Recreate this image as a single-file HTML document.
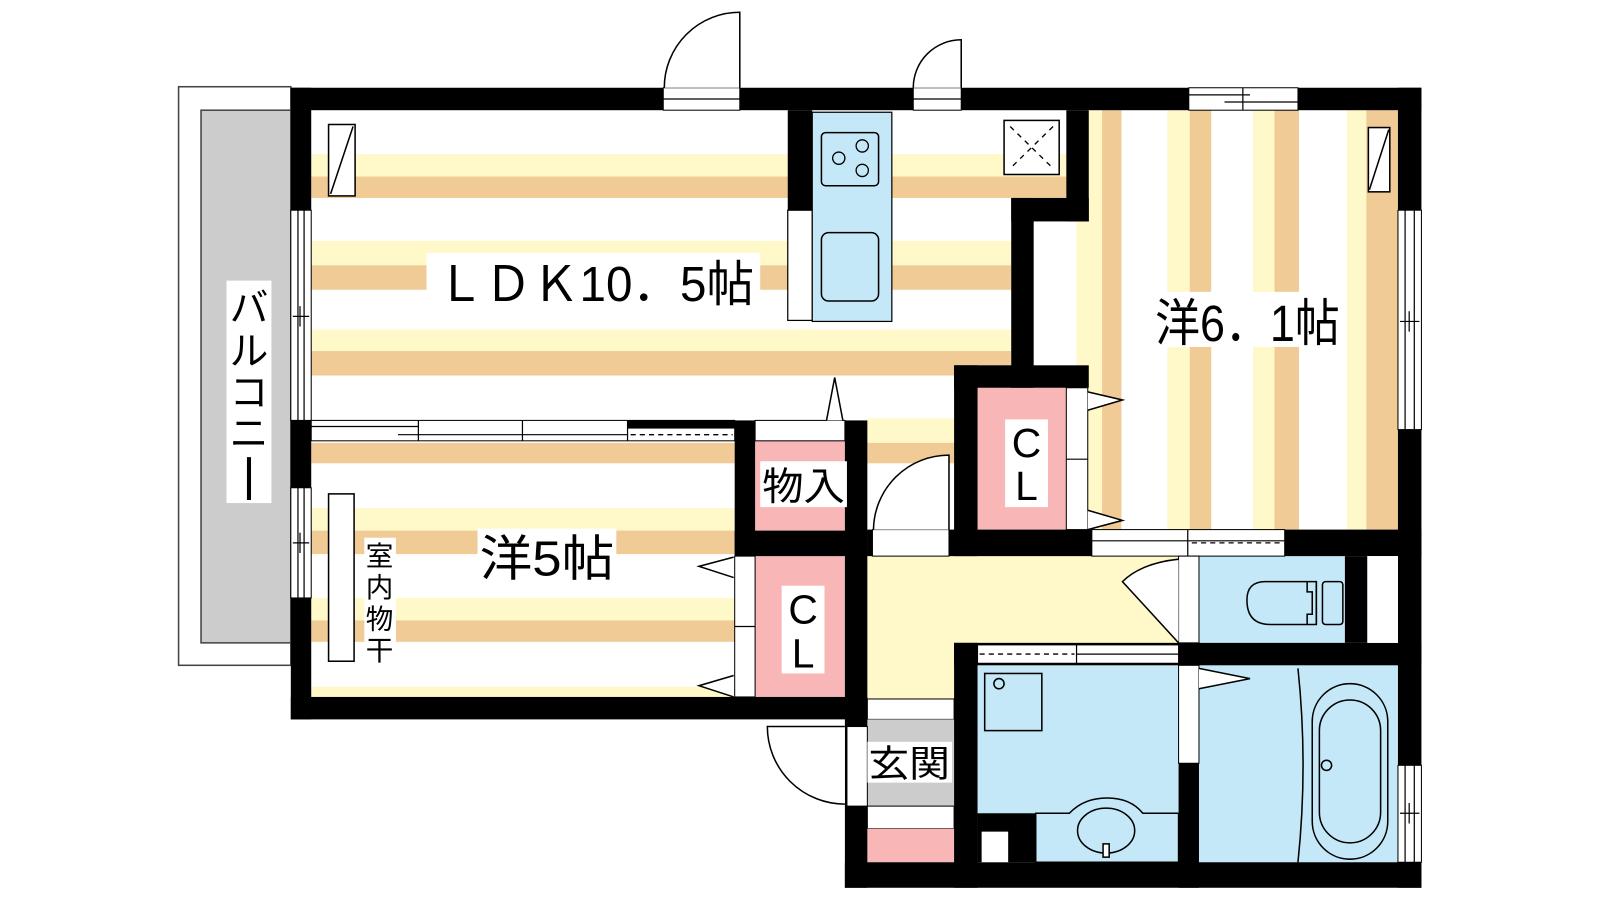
<!DOCTYPE html>
<html><head><meta charset="utf-8"><style>
html,body{margin:0;padding:0;background:#fff;}
svg{display:block;}
text{font-family:"Liberation Sans","Noto Sans CJK JP",sans-serif;fill:#000;}
</style></head><body>
<svg width="1600" height="900" viewBox="0 0 1568 882" preserveAspectRatio="none" xmlns="http://www.w3.org/2000/svg">
<rect width="1568" height="882" fill="#fff"/>
<!-- balcony -->
<rect x="175" y="85" width="110" height="567" fill="#fff" stroke="#444" stroke-width="1.5"/>
<rect x="197" y="108" width="88" height="522" fill="#ccc" stroke="#444" stroke-width="1.5"/>
<rect x="222" y="275" width="44" height="218" fill="#fff"/>
<text x="244" y="315" font-size="38" text-anchor="middle">バ</text>
<text x="244" y="357" font-size="38" text-anchor="middle">ル</text>
<text x="244" y="398" font-size="38" text-anchor="middle">コ</text>
<text x="244" y="438" font-size="38" text-anchor="middle">ニ</text>
<rect x="242" y="448" width="4" height="42" fill="#000"/>

<!-- LDK floor stripes -->
<g fill="#FFF8C8">
<rect x="305" y="151" width="740" height="22"/>
<rect x="305" y="236" width="686" height="24"/>
<rect x="305" y="323" width="686" height="21"/>
<rect x="850" y="410" width="85" height="24"/>
<rect x="305" y="498" width="415" height="22"/>
<rect x="305" y="586" width="415" height="22"/>
<rect x="305" y="673" width="415" height="10"/>
</g>
<g fill="#F0CB95">
<rect x="305" y="173" width="740" height="21"/>
<rect x="305" y="260" width="686" height="24"/>
<rect x="305" y="344" width="686" height="24"/>
<rect x="850" y="434" width="85" height="20"/>
<rect x="305" y="434" width="415" height="20"/>
<rect x="305" y="520" width="415" height="23"/>
<rect x="305" y="608" width="415" height="21"/>
</g>
<!-- 6.1 room stripes -->
<g fill="#FFF8C8">
<rect x="1055" y="217" width="25" height="302"/>
<rect x="1067" y="108" width="13" height="109"/>
<rect x="1144" y="108" width="22" height="411"/>
<rect x="1228" y="108" width="21" height="411"/>
<rect x="1320" y="108" width="19" height="411"/>
</g>
<g fill="#F0CB95">
<rect x="1080" y="108" width="19" height="411"/>
<rect x="1166" y="108" width="21" height="411"/>
<rect x="1249" y="108" width="24" height="411"/>
<rect x="1339" y="108" width="31" height="411"/>
</g>

<!-- corridor -->
<rect x="850" y="545" width="305" height="85" fill="#FFF8C8"/>
<rect x="850" y="630" width="85" height="55" fill="#FFF8C8"/>
<!-- pink closets -->
<rect x="740" y="432" width="88" height="88" fill="#F8B6B6"/>
<rect x="740" y="545" width="88" height="138" fill="#F8B6B6"/>
<rect x="958" y="380" width="87" height="139" fill="#F8B6B6"/>
<!-- blue wet rooms -->
<rect x="1175" y="545" width="143" height="85" fill="#C4E8F8"/>
<rect x="958" y="652" width="197" height="193" fill="#C4E8F8"/>
<rect x="1175" y="652" width="195" height="193" fill="#C4E8F8"/>
<!-- entrance -->
<rect x="850" y="685" width="85" height="20" fill="#fff" stroke="#000" stroke-width="1"/>
<rect x="850" y="705" width="85" height="85" fill="#ccc"/>
<rect x="850" y="790" width="85" height="22" fill="#fff" stroke="#000" stroke-width="1"/>
<rect x="850" y="812" width="85" height="33" fill="#F8B6B6"/>

<!-- kitchen -->
<rect x="772" y="206" width="24" height="108" fill="#fff" stroke="#000" stroke-width="1.2"/>
<rect x="796" y="110" width="78" height="205" fill="#C4E8F8" stroke="#000" stroke-width="1.2"/>
<rect x="805" y="130" width="56" height="52" rx="4" fill="none" stroke="#000" stroke-width="1.5"/>
<circle cx="822" cy="155" r="6" fill="none" stroke="#000" stroke-width="1.3"/>
<circle cx="845" cy="143" r="6" fill="none" stroke="#000" stroke-width="1.3"/>
<circle cx="845" cy="167" r="6" fill="none" stroke="#000" stroke-width="1.3"/>
<rect x="805" y="228" width="56" height="67" rx="7" fill="none" stroke="#000" stroke-width="1.5"/>
<!-- fridge box -->
<rect x="984" y="118" width="54" height="53" fill="#fff" stroke="#000" stroke-width="1.5"/>
<path d="M990 124 L1032 165 M1032 124 L990 165" stroke="#000" stroke-width="1.3" stroke-dasharray="5 5"/>
<!-- air units -->
<rect x="322" y="122" width="26" height="70" fill="#fff" stroke="#000" stroke-width="1.5"/>
<line x1="324" y1="190" x2="346" y2="124" stroke="#000" stroke-width="1.5"/>
<rect x="1341" y="125" width="21" height="63" fill="#fff" stroke="#000" stroke-width="1.5"/>
<line x1="1342" y1="186" x2="1361" y2="127" stroke="#000" stroke-width="1.5"/>
<!-- rod -->
<rect x="322" y="484" width="25" height="164" fill="#fff" stroke="#000" stroke-width="1.5"/>

<!-- walls -->
<g fill="#000">
<rect x="285" y="86" width="1108" height="22"/>
<rect x="285" y="86" width="20" height="619"/>
<rect x="285" y="683" width="565" height="22"/>
<rect x="720" y="412" width="20" height="133"/>
<rect x="720" y="520" width="130" height="25"/>
<rect x="828" y="412" width="22" height="458"/>
<rect x="772" y="108" width="24" height="98"/>
<rect x="1045" y="108" width="22" height="109"/>
<rect x="991" y="194" width="76" height="23"/>
<rect x="991" y="194" width="22" height="186"/>
<rect x="935" y="358" width="132" height="22"/>
<rect x="935" y="358" width="23" height="187"/>
<rect x="850" y="519" width="543" height="26"/>
<rect x="1370" y="86" width="23" height="784"/>
<rect x="1318" y="545" width="22" height="85"/>
<rect x="1155" y="630" width="238" height="22"/>
<rect x="935" y="630" width="220" height="22"/>
<rect x="935" y="630" width="23" height="240"/>
<rect x="828" y="845" width="565" height="25"/>
<rect x="1155" y="545" width="20" height="325"/>
<rect x="958" y="797" width="57" height="48"/>
</g>
<rect x="962" y="815" width="26" height="30" fill="#fff"/>
<rect x="1340" y="545" width="30" height="85" fill="#fff"/>

<!-- windows / openings -->
<g fill="#fff" stroke="#000" stroke-width="1">
<rect x="285" y="206" width="20" height="206"/>
<rect x="285" y="478" width="20" height="108"/>
<rect x="1370" y="206" width="23" height="215"/>
<rect x="1370" y="750" width="23" height="95"/>
<rect x="1165" y="86" width="107" height="22"/>
<rect x="650" y="86" width="75" height="22"/>
<rect x="895" y="86" width="47" height="22"/>
<rect x="1070" y="519" width="189" height="26"/>
<rect x="958" y="632" width="197" height="18"/>
<rect x="305" y="412" width="415" height="20"/>
<rect x="740" y="412" width="88" height="20"/>
<rect x="855" y="519" width="75" height="26"/>
<rect x="830" y="712" width="20" height="78"/>
<rect x="1045" y="380" width="21" height="139"/>
<rect x="720" y="545" width="20" height="138"/>
<rect x="1155" y="545" width="20" height="85"/>
<rect x="1155" y="652" width="20" height="96"/>
</g>
<g stroke="#000" stroke-width="1.2" fill="none">
<path d="M292 206 V412 M298 206 V412 M287 310 H303 M294 300 V320"/>
<path d="M292 478 V586 M298 478 V586 M287 532 H303 M294 522 V542"/>
<path d="M1377 206 V421 M1386 206 V421 M1372 315 H1391 M1381 305 V325"/>
<path d="M1377 750 V845 M1386 750 V845 M1372 797 H1391 M1381 787 V807"/>
<path d="M1165 93 H1225 M1200 100 H1272 M1218 86 V108"/>
<path d="M650 97 H725 M895 97 H942"/>
<path d="M1070 530 H1259 M1164 519 V545"/>
<path d="M1055 632 V650 M1055 641 H1155"/>
<path d="M305 418 H410 M390 426 H615 M410 412 V432 M512 412 V432 M615 412 V432"/>
<path d="M1045 450 H1066 M720 614 H740"/>
</g>
<rect x="615" y="412" width="105" height="8" fill="#000"/>
<g stroke="#000" stroke-width="1.3" stroke-dasharray="5 4">
<line x1="618" y1="426" x2="718" y2="426"/>
<line x1="1168" y1="532" x2="1257" y2="532"/>
<line x1="960" y1="641" x2="1053" y2="641"/>
</g>

<!-- doors -->
<g fill="#fff" stroke="#000" stroke-width="1.5">
<path d="M725 86 L725 12 A74 74 0 0 0 651 86"/>
<path d="M942 86 L942 39 A47 47 0 0 0 895 86"/>
<path d="M930 519 L930 446 A74 74 0 0 0 856 519"/>
<path d="M828 712 L752 712 A76 76 0 0 0 828 788"/>
<path d="M1155 548 Q1118 552 1100 570 L1155 630"/>
<path d="M810 412 L818 370 L826 412"/>
<path d="M1066 384 L1100 392 L1066 402"/>
<path d="M1066 500 L1100 510 L1066 519"/>
<path d="M719 546 L685 555 L719 566"/>
<path d="M719 662 L685 672 L719 683"/>
<path d="M1175 655 L1225 665 L1175 675"/>
</g>

<!-- toilet -->
<g fill="none" stroke="#000" stroke-width="1.5">
<path d="M1290 570 H1240 Q1222 570 1222 588 Q1222 612 1245 612 H1290 Z"/>
<path d="M1281 570 V580 H1286 V602 H1281 V612"/>
<rect x="1296" y="570" width="20" height="42" rx="3"/>
<line x1="1290" y1="570" x2="1290" y2="612"/>
<!-- washing machine -->
<rect x="965" y="660" width="56" height="56"/>
<circle cx="979" cy="670" r="5"/>
<!-- sink -->
<path d="M1015 797 H1048 Q1062 782 1085 782 Q1108 782 1120 797 H1155 V845 H1015 Z" fill="#C4E8F8"/>
<ellipse cx="1084" cy="814" rx="28" ry="22"/>
<rect x="1081" y="827" width="6" height="13" fill="#fff"/>
<!-- bath -->
<path d="M1272 655 Q1282 750 1272 845"/>
<rect x="1286" y="670" width="74" height="172" rx="37"/>
<rect x="1293" y="686" width="60" height="140" rx="30"/>
<circle cx="1300" cy="750" r="5"/>
</g>

<!-- labels -->
<rect x="418" y="248" width="327" height="53" fill="#fff"/>
<text x="428" y="295" font-size="48" textLength="311" lengthAdjust="spacingAndGlyphs">ＬＤＫ10．5帖</text>
<rect x="1130" y="286" width="185" height="54" fill="#fff"/>
<text x="1132" y="334" font-size="50" textLength="181" lengthAdjust="spacingAndGlyphs">洋6．1帖</text>
<rect x="468" y="518" width="136" height="50" fill="#fff"/>
<text x="470" y="564" font-size="48" textLength="132" lengthAdjust="spacingAndGlyphs">洋5帖</text>
<rect x="357" y="527" width="31" height="126" fill="#fff"/>
<text x="372" y="554" font-size="27" text-anchor="middle">室</text>
<text x="372" y="585" font-size="27" text-anchor="middle">内</text>
<text x="372" y="616" font-size="27" text-anchor="middle">物</text>
<text x="372" y="647" font-size="27" text-anchor="middle">干</text>
<rect x="745" y="452" width="85" height="45" fill="#fff"/>
<text x="747" y="490" font-size="38" textLength="81" lengthAdjust="spacingAndGlyphs">物入</text>
<rect x="985" y="411" width="42" height="86" fill="#fff"/>
<text x="1006" y="448" font-size="40" text-anchor="middle">C</text>
<text x="1006" y="490" font-size="40" text-anchor="middle">L</text>
<rect x="766" y="574" width="42" height="86" fill="#fff"/>
<text x="787" y="611" font-size="40" text-anchor="middle">C</text>
<text x="787" y="654" font-size="40" text-anchor="middle">L</text>
<rect x="850" y="727" width="83" height="40" fill="#fff"/>
<text x="851" y="761" font-size="36" textLength="80" lengthAdjust="spacingAndGlyphs">玄関</text>
</svg>
</body></html>
